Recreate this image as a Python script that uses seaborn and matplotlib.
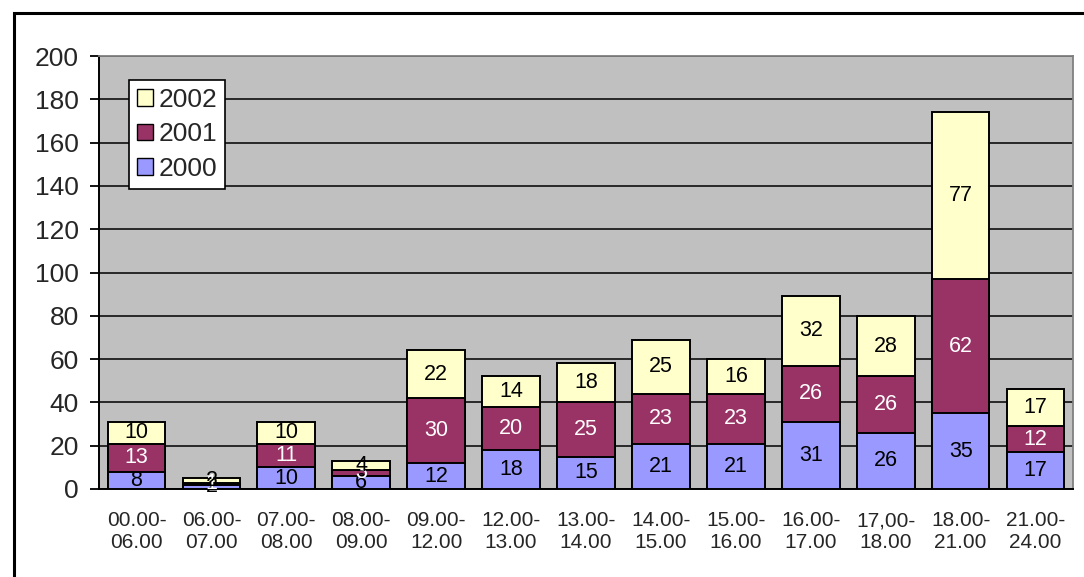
import numpy as np
import pandas as pd
import matplotlib
matplotlib.use("Agg")
import matplotlib.pyplot as plt
from matplotlib.patches import Rectangle, Patch
import seaborn as sns

# Time-of-day intervals
categories = ["00.00-\n06.00", "06.00-\n07.00", "07.00-\n08.00", "08.00-\n09.00",
              "09.00-\n12.00", "12.00-\n13.00", "13.00-\n14.00", "14.00-\n15.00",
              "15.00-\n16.00", "16.00-\n17.00", "17,00-\n18.00", "18.00-\n21.00",
              "21.00-\n24.00"]

# Counts per year
y2000 = [8, 2, 10, 6, 12, 18, 15, 21, 21, 31, 26, 35, 17]
y2001 = [13, 1, 11, 3, 30, 20, 25, 23, 23, 26, 26, 62, 12]
y2002 = [10, 2, 10, 4, 22, 14, 18, 25, 16, 32, 28, 77, 17]

years = ["2000", "2001", "2002"]
colors = {"2000": "#9999FF", "2001": "#993366", "2002": "#FFFFCC"}
text_colors = {"2000": "black", "2001": "white", "2002": "black"}

df = pd.DataFrame({"interval": categories, "2000": y2000, "2001": y2001, "2002": y2002})
df["c2000"] = df["2000"]
df["c2001"] = df["c2000"] + df["2001"]
df["c2002"] = df["c2001"] + df["2002"]

sns.set_style("white")
plt.rcParams["font.family"] = ["Liberation Sans", "DejaVu Sans"]

fig = plt.figure(figsize=(10.84, 5.77), dpi=100)
ax = fig.add_axes([99 / 1084, 1 - 489 / 577, (1073 - 99) / 1084, (489 - 56) / 577])
ax.set_facecolor("#C0C0C0")

# Stacked bars: draw cumulative totals from the top layer down
for yr in ["2002", "2001", "2000"]:
    sns.barplot(data=df, x="interval", y="c" + yr, color=colors[yr], saturation=1,
                width=0.77, edgecolor="black", linewidth=1.4, ax=ax, zorder=3)

# Value labels centred in each segment
for i in range(len(categories)):
    base = 0
    for yr in years:
        v = df[yr].iloc[i]
        ax.text(i, base + v / 2, str(v), ha="center", va="center",
                fontsize=15.5, color=text_colors[yr], zorder=5)
        base += v

ax.set_ylim(0, 200)
ax.set_xlim(-0.5, len(categories) - 0.5)
ax.set_yticks(np.arange(0, 201, 20))
ax.yaxis.grid(True, color="black", linewidth=1.1, zorder=1)
ax.set_axisbelow(True)
ax.set_xlabel("")
ax.set_ylabel("")

# Category labels without marks, separator marks between categories
ax.set_xticks(range(len(categories)))
ax.set_xticklabels(categories, fontsize=15, linespacing=1.2)
ax.tick_params(axis="x", which="major", length=0, pad=16)
ax.set_xticks(np.arange(-0.5, len(categories), 1), minor=True)
ax.tick_params(axis="x", which="minor", length=5.5, width=1.3, color="black", direction="out")
ax.tick_params(axis="y", length=6.5, width=1.3, color="black", direction="out",
               labelsize=19, pad=8, left=True)

for s in ["left", "bottom"]:
    ax.spines[s].set_color("black")
    ax.spines[s].set_linewidth(1.4)
for s in ["top", "right"]:
    ax.spines[s].set_color("#808080")
    ax.spines[s].set_linewidth(1.3)

handles = [Patch(facecolor=colors[yr], edgecolor="black", linewidth=1.0, label=yr)
           for yr in ["2002", "2001", "2000"]]
leg = ax.legend(handles=handles, loc="upper left", bbox_to_anchor=(0.031, 0.945),
                borderaxespad=0, fontsize=19, frameon=True, fancybox=False,
                edgecolor="black", framealpha=1, handlelength=0.6, handleheight=0.6,
                handletextpad=0.2, labelspacing=0.4, borderpad=0.3)
leg.get_frame().set_linewidth(1.2)
leg.set_zorder(6)

# Outer chart frame
fig.patches.append(Rectangle((14 / 1084, -0.1), 2.0, 1 - 13 / 577 + 0.1,
                             transform=fig.transFigure, fill=False,
                             edgecolor="black", linewidth=2.2))

fig.savefig("out.png", dpi=100)
